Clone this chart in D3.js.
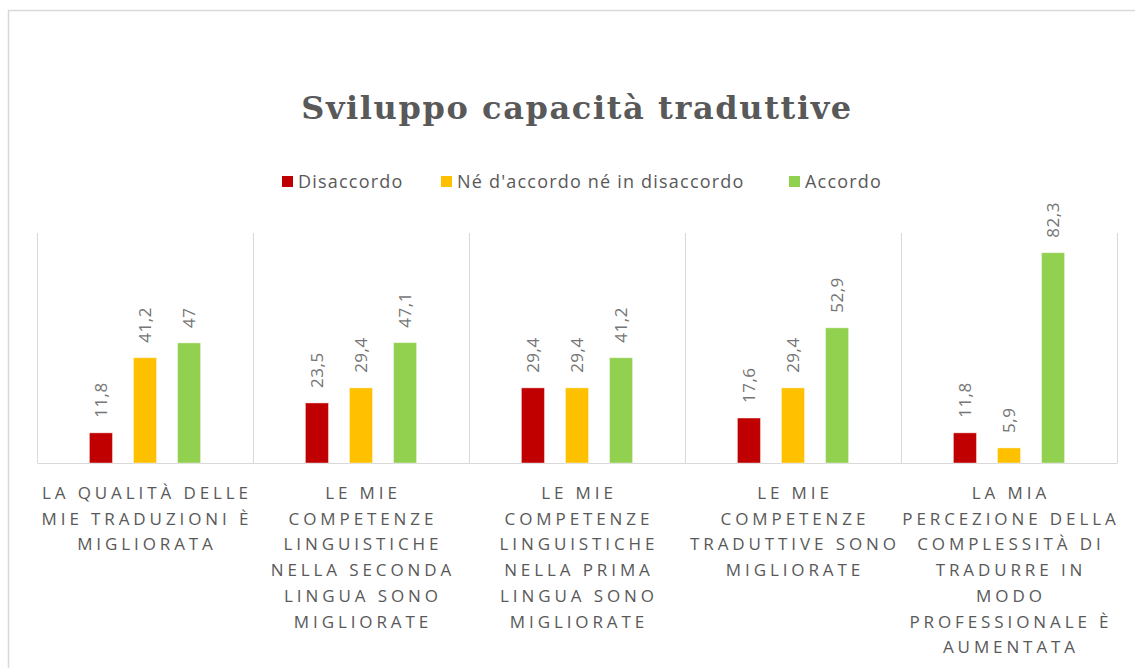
<!DOCTYPE html>
<html>
<head>
<meta charset="utf-8">
<script src="https://cdn.jsdelivr.net/npm/d3@7"></script>
<style>
  body { margin: 0; background: #fff; }
  text { fill: #595959; }
</style>
</head>
<body>
<div id="chart"></div>
<script>
var width = 1135,
    height = 668;

// data
var series = ["Disaccordo", "Né d'accordo né in disaccordo", "Accordo"];
var colors = ["#C00000", "#FFC000", "#92D050"];
var categories = [
  ["LA QUALITÀ DELLE", "MIE TRADUZIONI È", "MIGLIORATA"],
  ["LE MIE", "COMPETENZE", "LINGUISTICHE", "NELLA SECONDA", "LINGUA SONO", "MIGLIORATE"],
  ["LE MIE", "COMPETENZE", "LINGUISTICHE", "NELLA PRIMA", "LINGUA SONO", "MIGLIORATE"],
  ["LE MIE", "COMPETENZE", "TRADUTTIVE SONO", "MIGLIORATE"],
  ["LA MIA", "PERCEZIONE DELLA", "COMPLESSITÀ DI", "TRADURRE IN", "MODO", "PROFESSIONALE È", "AUMENTATA"]
];
var disaccordo = [11.8, 23.5, 29.4, 17.6, 11.8];
var neutro = [41.2, 29.4, 29.4, 29.4, 5.9];
var accordo = [47, 47.1, 41.2, 52.9, 82.3];
var values = [disaccordo, neutro, accordo];

var svg = d3.select("#chart")
  .append("svg")
  .attr("width", width)
  .attr("height", height);

// chart border (only top and left visible)
svg.append("path")
  .attr("d", "M8.5," + height + "V10.5H" + width)
  .attr("fill", "none")
  .attr("stroke", "#d9d9d9")
  .attr("stroke-width", 1.5);

var plotLeft = 37, plotRight = 1117, plotTop = 233, plotBottom = 463;

var catIdx = d3.range(categories.length);

var x0 = d3.scaleBand()
  .domain(catIdx)
  .range([plotLeft, plotRight]);

var x1 = d3.scaleBand()
  .domain(d3.range(series.length))
  .range([0, x0.bandwidth()])
  .paddingInner(0.477)
  .paddingOuter(1.19);

var y = d3.scaleLinear()
  .domain([0, 90])
  .range([plotBottom, plotTop]);

// vertical separators
svg.append("g")
  .selectAll("line")
  .data(d3.range(categories.length + 1))
  .enter().append("line")
  .attr("x1", function(d) { return d < categories.length ? x0(d) : plotRight; })
  .attr("x2", function(d) { return d < categories.length ? x0(d) : plotRight; })
  .attr("y1", plotTop)
  .attr("y2", plotBottom)
  .attr("stroke", "#d9d9d9")
  .attr("shape-rendering", "crispEdges");

// baseline
var xAxis = d3.axisBottom(x0).tickSize(0).tickFormat("");
svg.append("g")
  .attr("transform", "translate(0," + plotBottom + ")")
  .call(xAxis)
  .call(function(g) { g.select(".domain").attr("stroke", "#d9d9d9"); });

// bars
var groups = svg.append("g")
  .selectAll("g")
  .data(catIdx)
  .enter().append("g")
  .attr("transform", function(d) { return "translate(" + x0(d) + ",0)"; });

groups.selectAll("rect")
  .data(function(c) { return values.map(function(v, s) { return { s: s, v: v[c] }; }); })
  .enter().append("rect")
  .attr("x", function(d) { return x1(d.s); })
  .attr("y", function(d) { return y(d.v); })
  .attr("width", x1.bandwidth())
  .attr("height", function(d) { return plotBottom - y(d.v); })
  .attr("fill", function(d) { return colors[d.s]; })
  .attr("stroke", "#fff")
  .attr("stroke-opacity", 0.4)
  .attr("stroke-width", 1);

// data labels
groups.selectAll("text.val")
  .data(function(c) { return values.map(function(v, s) { return { s: s, v: v[c] }; }); })
  .enter().append("text")
  .attr("class", "val")
  .attr("transform", function(d) {
    return "translate(" + (x1(d.s) + x1.bandwidth() / 2) + "," + (y(d.v) - 15) + ") rotate(-90)";
  })
  .attr("dy", "0.35em")
  .style("font-family", "'Open Sans', sans-serif")
  .style("font-size", "17px")
  .style("letter-spacing", "0.5px")
  .style("fill", "#757575")
  .text(function(d) { return String(d.v).replace(".", ","); });

// category labels
var catSpacing = 3.9;
var catLabels = svg.append("g")
  .selectAll("text")
  .data(catIdx)
  .enter().append("text")
  .attr("y", 499)
  .attr("text-anchor", "middle")
  .style("font-family", "'Open Sans', sans-serif")
  .style("font-size", "17px")
  .style("letter-spacing", catSpacing + "px");

catLabels.selectAll("tspan")
  .data(function(d) { return categories[d].map(function(t) { return { c: d, t: t }; }); })
  .enter().append("tspan")
  .attr("x", function(d) { return x0(d.c) + x0.bandwidth() / 2 + catSpacing / 2; })
  .attr("dy", function(d, i) { return i === 0 ? 0 : 25.7; })
  .text(function(d) { return d.t; });

// title
svg.append("text")
  .attr("x", 577)
  .attr("y", 119)
  .attr("text-anchor", "middle")
  .style("font-family", "'DejaVu Serif', serif")
  .style("font-weight", "bold")
  .style("font-size", "32px")
  .style("letter-spacing", "1.6px")
  .text("Sviluppo capacità traduttive");

// legend
var legendX = [282, 441, 789];
var legend = svg.append("g")
  .selectAll("g")
  .data(series)
  .enter().append("g")
  .attr("transform", function(d, i) { return "translate(" + legendX[i] + ",182)"; });

legend.append("rect")
  .attr("x", 0)
  .attr("y", -6)
  .attr("width", 11)
  .attr("height", 11)
  .attr("fill", function(d, i) { return colors[i]; });

legend.append("text")
  .attr("x", 16)
  .attr("dy", "0.35em")
  .style("font-family", "'Open Sans', sans-serif")
  .style("font-size", "18px")
  .style("letter-spacing", "1.2px")
  .text(function(d) { return d; });
</script>
</body>
</html>
